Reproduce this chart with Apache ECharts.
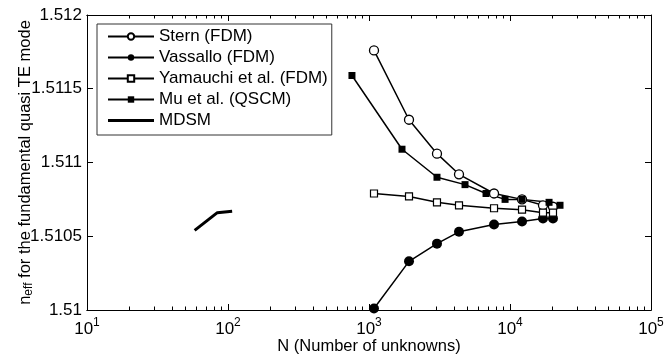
<!DOCTYPE html>
<html>
<head>
<meta charset="utf-8">
<script src="https://cdn.jsdelivr.net/npm/echarts@6/dist/echarts.min.js"></script>
<style>html,body{margin:0;padding:0;background:#fff;}#c{width:664px;height:359px;}</style>
</head>
<body>
<div id="c"></div>
<script>
// Data
const seriesNames = ['Stern (FDM)', 'Vassallo (FDM)', 'Yamauchi et al. (FDM)', 'Mu et al. (QSCM)', 'MDSM'];
const sternN = [1085, 1922, 3035, 4348, 7705, 12170, 17140, 20180];
const sternVal = [1.51176, 1.51129, 1.51106, 1.51092, 1.51079, 1.51075, 1.51071, 1.51070];
const vassalloN = [1085, 1922, 3035, 4348, 7705, 12170, 17140, 20180];
const vassalloVal = [1.51001, 1.51033, 1.51045, 1.51053, 1.51058, 1.51060, 1.51062, 1.51062];
const yamauchiN = [1085, 1922, 3035, 4348, 7705, 12170, 17140, 20180];
const yamauchiVal = [1.51079, 1.51077, 1.51073, 1.51071, 1.51069, 1.51068, 1.51066, 1.51066];
const muN = [757, 1714, 3035, 4797, 6761, 9226, 12170, 18920, 22630];
const muVal = [1.51159, 1.51109, 1.51090, 1.51085, 1.51079, 1.51075, 1.51075, 1.51073, 1.51071];
const mdsmN = [58, 84, 107];
const mdsmVal = [1.51054, 1.51066, 1.51067];
const xMajorTicks = [10, 100, 1000, 10000, 100000];
const yTicks = [1.51, 1.5105, 1.511, 1.5115, 1.512];

const zip = (a, b) => a.map((v, i) => [v, b[i]]);
const xMinorTicks = [];
for (let k = 1; k < 5; k++) for (let m = 2; m <= 9; m++) xMinorTicks.push(m * Math.pow(10, k));

const font = 'Liberation Sans, Arial, Helvetica, sans-serif';
const black = '#000';
const FS = 17;

const chart = echarts.init(document.getElementById('c'), null, {renderer: 'canvas'});

function xAxisDef(pos, major, showLabel, name) {
  const ax = {
    type: 'log', logBase: 10, min: 10, max: 100000, position: pos,
    axisLine: {show: true, onZero: false, lineStyle: {color: black, width: 1}},
    axisTick: {show: true, inside: true, length: major ? 6 : 3.5, customValues: major ? xMajorTicks : xMinorTicks, lineStyle: {color: black, width: 1}},
    axisLabel: {show: false},
    splitLine: {show: false},
    minorTick: {show: false},
    nameMoveOverlap: false
  };
  if (showLabel) {
    ax.axisLabel = {
      show: true, margin: 5, customValues: xMajorTicks,
      formatter: v => '{b|10}{s|' + Math.round(Math.log10(v)) + '}',
      rich: {
        b: {fontSize: FS, fontFamily: font, color: black, padding: [6, 0, 0, 0]},
        s: {fontSize: 12, fontFamily: font, color: black, padding: [0, 0, 7, 0]}
      }
    };
  }
  if (name) {
    ax.name = name; ax.nameLocation = 'middle'; ax.nameGap = 28;
    ax.nameTextStyle = {fontSize: 16.5, fontFamily: font, color: black, verticalAlign: 'top'};
  }
  return ax;
}

const option = {
  animation: false,
  backgroundColor: '#fff',
  grid: {left: 87, right: 13, top: 15, bottom: 49, containLabel: false, outerBoundsMode: 'none'},
  legend: {
    orient: 'vertical', left: 97, top: 24,
    padding: [4, 4, 6, 10],
    itemWidth: 46, itemHeight: 8, itemGap: 4,
    backgroundColor: '#fff', borderColor: '#333', borderWidth: 1,
    textStyle: {fontSize: FS, fontFamily: font, color: black},
    data: [
      {name: seriesNames[0]}, {name: seriesNames[1]}, {name: seriesNames[2]}, {name: seriesNames[3]},
      {name: seriesNames[4], icon: 'path://M0,0H46V3H0Z', itemStyle: {color: black}}
    ],
    symbolKeepAspect: true
  },
  xAxis: [
    xAxisDef('bottom', true, true, 'N (Number of unknowns)'),
    xAxisDef('bottom', false, false),
    xAxisDef('top', true, false),
    xAxisDef('top', false, false)
  ],
  yAxis: [
    {
      type: 'value', min: 1.51, max: 1.512, interval: 0.0005, position: 'left',
      axisLine: {show: true, onZero: false, lineStyle: {color: black}},
      axisTick: {show: true, inside: true, length: 6, lineStyle: {color: black}},
      axisLabel: {fontSize: FS, fontFamily: font, color: black, margin: 5,
        formatter: v => { const t = yTicks.find(x => Math.abs(x - v) < 1e-9); return String(t !== undefined ? t : v); }},
      splitLine: {show: false},
      name: '{n|n}{e|eff}{n| for the fundamental quasi TE mode}',
      nameLocation: 'middle', nameGap: 52, nameMoveOverlap: false,
      nameTextStyle: {rich: {
        n: {fontSize: 16.5, fontFamily: font, color: black},
        e: {fontSize: 12, fontFamily: font, color: black, padding: [8, 0, 0, 0]}
      }}
    },
    {
      type: 'value', min: 1.51, max: 1.512, interval: 0.0005, position: 'right',
      axisLine: {show: true, onZero: false, lineStyle: {color: black}},
      axisTick: {show: true, inside: true, length: 6, lineStyle: {color: black}},
      axisLabel: {show: false},
      splitLine: {show: false}
    }
  ],
  series: [
    {
      name: seriesNames[0], type: 'line', data: zip(sternN, sternVal),
      symbol: 'circle', symbolSize: 9,
      lineStyle: {color: black, width: 1.5},
      itemStyle: {color: '#fff', borderColor: black, borderWidth: 1.3}
    },
    {
      name: seriesNames[1], type: 'line', data: zip(vassalloN, vassalloVal),
      symbol: 'circle', symbolSize: 10,
      lineStyle: {color: black, width: 1.5},
      itemStyle: {color: black, borderColor: black, borderWidth: 0}
    },
    {
      name: seriesNames[2], type: 'line', data: zip(yamauchiN, yamauchiVal),
      symbol: 'rect', symbolSize: 7,
      lineStyle: {color: black, width: 1.5},
      itemStyle: {color: '#fff', borderColor: black, borderWidth: 1.2}
    },
    {
      name: seriesNames[3], type: 'line', data: zip(muN, muVal),
      symbol: 'rect', symbolSize: 7,
      lineStyle: {color: black, width: 1.5},
      itemStyle: {color: black, borderColor: black, borderWidth: 0}
    },
    {
      name: seriesNames[4], type: 'line', data: zip(mdsmN, mdsmVal),
      showSymbol: false, symbol: 'none',
      lineStyle: {color: black, width: 3},
      itemStyle: {color: black}
    }
  ]
};
chart.setOption(option);
</script>
</body>
</html>
